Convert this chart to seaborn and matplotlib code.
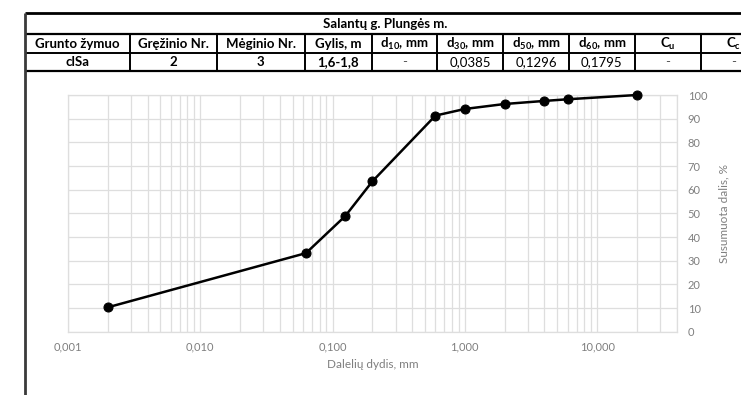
import matplotlib
matplotlib.use("Agg")
import matplotlib.pyplot as plt
from matplotlib.lines import Line2D
from matplotlib.ticker import LogLocator, FuncFormatter, NullFormatter, MultipleLocator
import seaborn as sns
import pandas as pd

# Grain size distribution (sieve + hydrometer)
particle_size_mm = [0.002, 0.063, 0.125, 0.2, 0.6, 1.0, 2.0, 4.0, 6.0, 20.0]
passing_pct = [10.3, 33.2, 48.9, 63.5, 91.3, 94.1, 96.2, 97.5, 98.2, 100.0]

title_text = "Salantų g. Plungės m."
header_labels = ["Grunto žymuo", "Gręžinio Nr.", "Mėginio Nr.", "Gylis, m",
                 r"$\mathbf{d_{10}}$, mm", r"$\mathbf{d_{30}}$, mm",
                 r"$\mathbf{d_{50}}$, mm", r"$\mathbf{d_{60}}$, mm",
                 r"$\mathbf{C_u}$", r"$\mathbf{C_c}$"]
row_values = ["clSa", "2", "3", "1,6-1,8", "-", "0,0385", "0,1296", "0,1795", "-", "-"]
row_bold = [True, True, True, True, False, False, False, False, False, False]

sns.set_theme(style="white")
plt.rcParams["font.family"] = ["Lato", "DejaVu Sans"]
plt.rcParams["mathtext.fontset"] = "custom"
plt.rcParams["mathtext.rm"] = "Lato"
plt.rcParams["mathtext.bf"] = "Lato:bold"
plt.rcParams["mathtext.it"] = "Lato:italic"

W, H = 741, 395
fig = plt.figure(figsize=(W / 100, H / 100), dpi=100)


def fx(px):
    return px / W


def fy(py):
    return 1 - py / H


# ---- header table -------------------------------------------------------
col_edges = [24.5, 130, 216.5, 305, 371.5, 437, 503, 569, 634.5, 700.5, 770]
row_top, row_title, row_head, row_data = 12.5, 34, 53, 71

def hline(y, x0, x1, lw):
    fig.add_artist(Line2D([fx(x0), fx(x1)], [fy(y), fy(y)], color="black", lw=lw,
                          solid_capstyle="butt"))

def vline(x, y0, y1, lw, color="black"):
    fig.add_artist(Line2D([fx(x), fx(x)], [fy(y0), fy(y1)], color=color, lw=lw,
                          solid_capstyle="butt"))

hline(row_top, 24.5, W, 2.0)
hline(row_title, 24.5, W, 1.6)
hline(row_head, 24.5, W, 1.4)
hline(row_data, 24.5, W, 1.6)
vline(col_edges[0], row_top, H, 2.0, color="#3a3a3a")
for xe in col_edges[1:-1]:
    vline(xe, row_title, row_data, 1.4)

fs_tab = 9.5
fig.text(fx(385), fy((row_top + row_title) / 2 + 0.5), title_text, ha="center",
         va="center", fontsize=fs_tab, fontweight="bold", color="black")
last_cx = 733.5
for i, lab in enumerate(header_labels):
    cx = (col_edges[i] + col_edges[i + 1]) / 2
    if i == len(header_labels) - 1:
        cx = last_cx
    fig.text(fx(cx), fy((row_title + row_head) / 2 + 0.5), lab, ha="center",
             va="center", fontsize=fs_tab, fontweight="bold", color="black")
for i, val in enumerate(row_values):
    cx = (col_edges[i] + col_edges[i + 1]) / 2
    if i == len(row_values) - 1:
        cx = last_cx
    fig.text(fx(cx), fy((row_head + row_data) / 2 + 0.5), val, ha="center",
             va="center", fontsize=fs_tab,
             fontweight="bold" if row_bold[i] else "normal",
             color="black" if row_bold[i] or val != "-" else "#555555")

# ---- grading curve ------------------------------------------------------
ax_l, ax_r, ax_t, ax_b = 68, 676.7, 95, 331.7
ax = fig.add_axes([fx(ax_l), fy(ax_b), fx(ax_r - ax_l), (ax_b - ax_t) / H])

df = pd.DataFrame({"size": particle_size_mm, "passing": passing_pct})
sns.lineplot(data=df, x="size", y="passing", ax=ax, color="black", lw=1.8,
             marker="o", markersize=6.5, markeredgecolor="black",
             markerfacecolor="black", clip_on=False, zorder=5)

ax.set_xscale("log")
ax.set_xlim(0.001, 40)
ax.set_ylim(0, 100)
ax.xaxis.set_major_locator(LogLocator(base=10, numticks=10))
ax.xaxis.set_minor_locator(LogLocator(base=10, subs=range(2, 10), numticks=20))
ax.xaxis.set_major_formatter(FuncFormatter(lambda v, p: f"{v:.3f}".replace(".", ",")))
ax.xaxis.set_minor_formatter(NullFormatter())
ax.yaxis.set_major_locator(MultipleLocator(10))
ax.yaxis.tick_right()
ax.yaxis.set_label_position("right")

grid_c = "#dedede"
ax.grid(True, which="major", axis="both", color=grid_c, lw=0.9)
ax.grid(True, which="minor", axis="x", color=grid_c, lw=0.9)
for s in ax.spines.values():
    s.set_color(grid_c)
    s.set_linewidth(0.9)

lab_c = "#7f7f7f"
ax.tick_params(axis="both", which="both", length=0, colors=lab_c, labelsize=8)
ax.tick_params(axis="x", pad=7)
ax.tick_params(axis="y", pad=8)
ax.set_xlabel("Dalelių dydis, mm", color=lab_c, fontsize=8.5, labelpad=5)
ax.set_ylabel("Susumuota dalis, %", color=lab_c, fontsize=8.5, labelpad=8)

fig.savefig("out.png", dpi=100, facecolor="white")
